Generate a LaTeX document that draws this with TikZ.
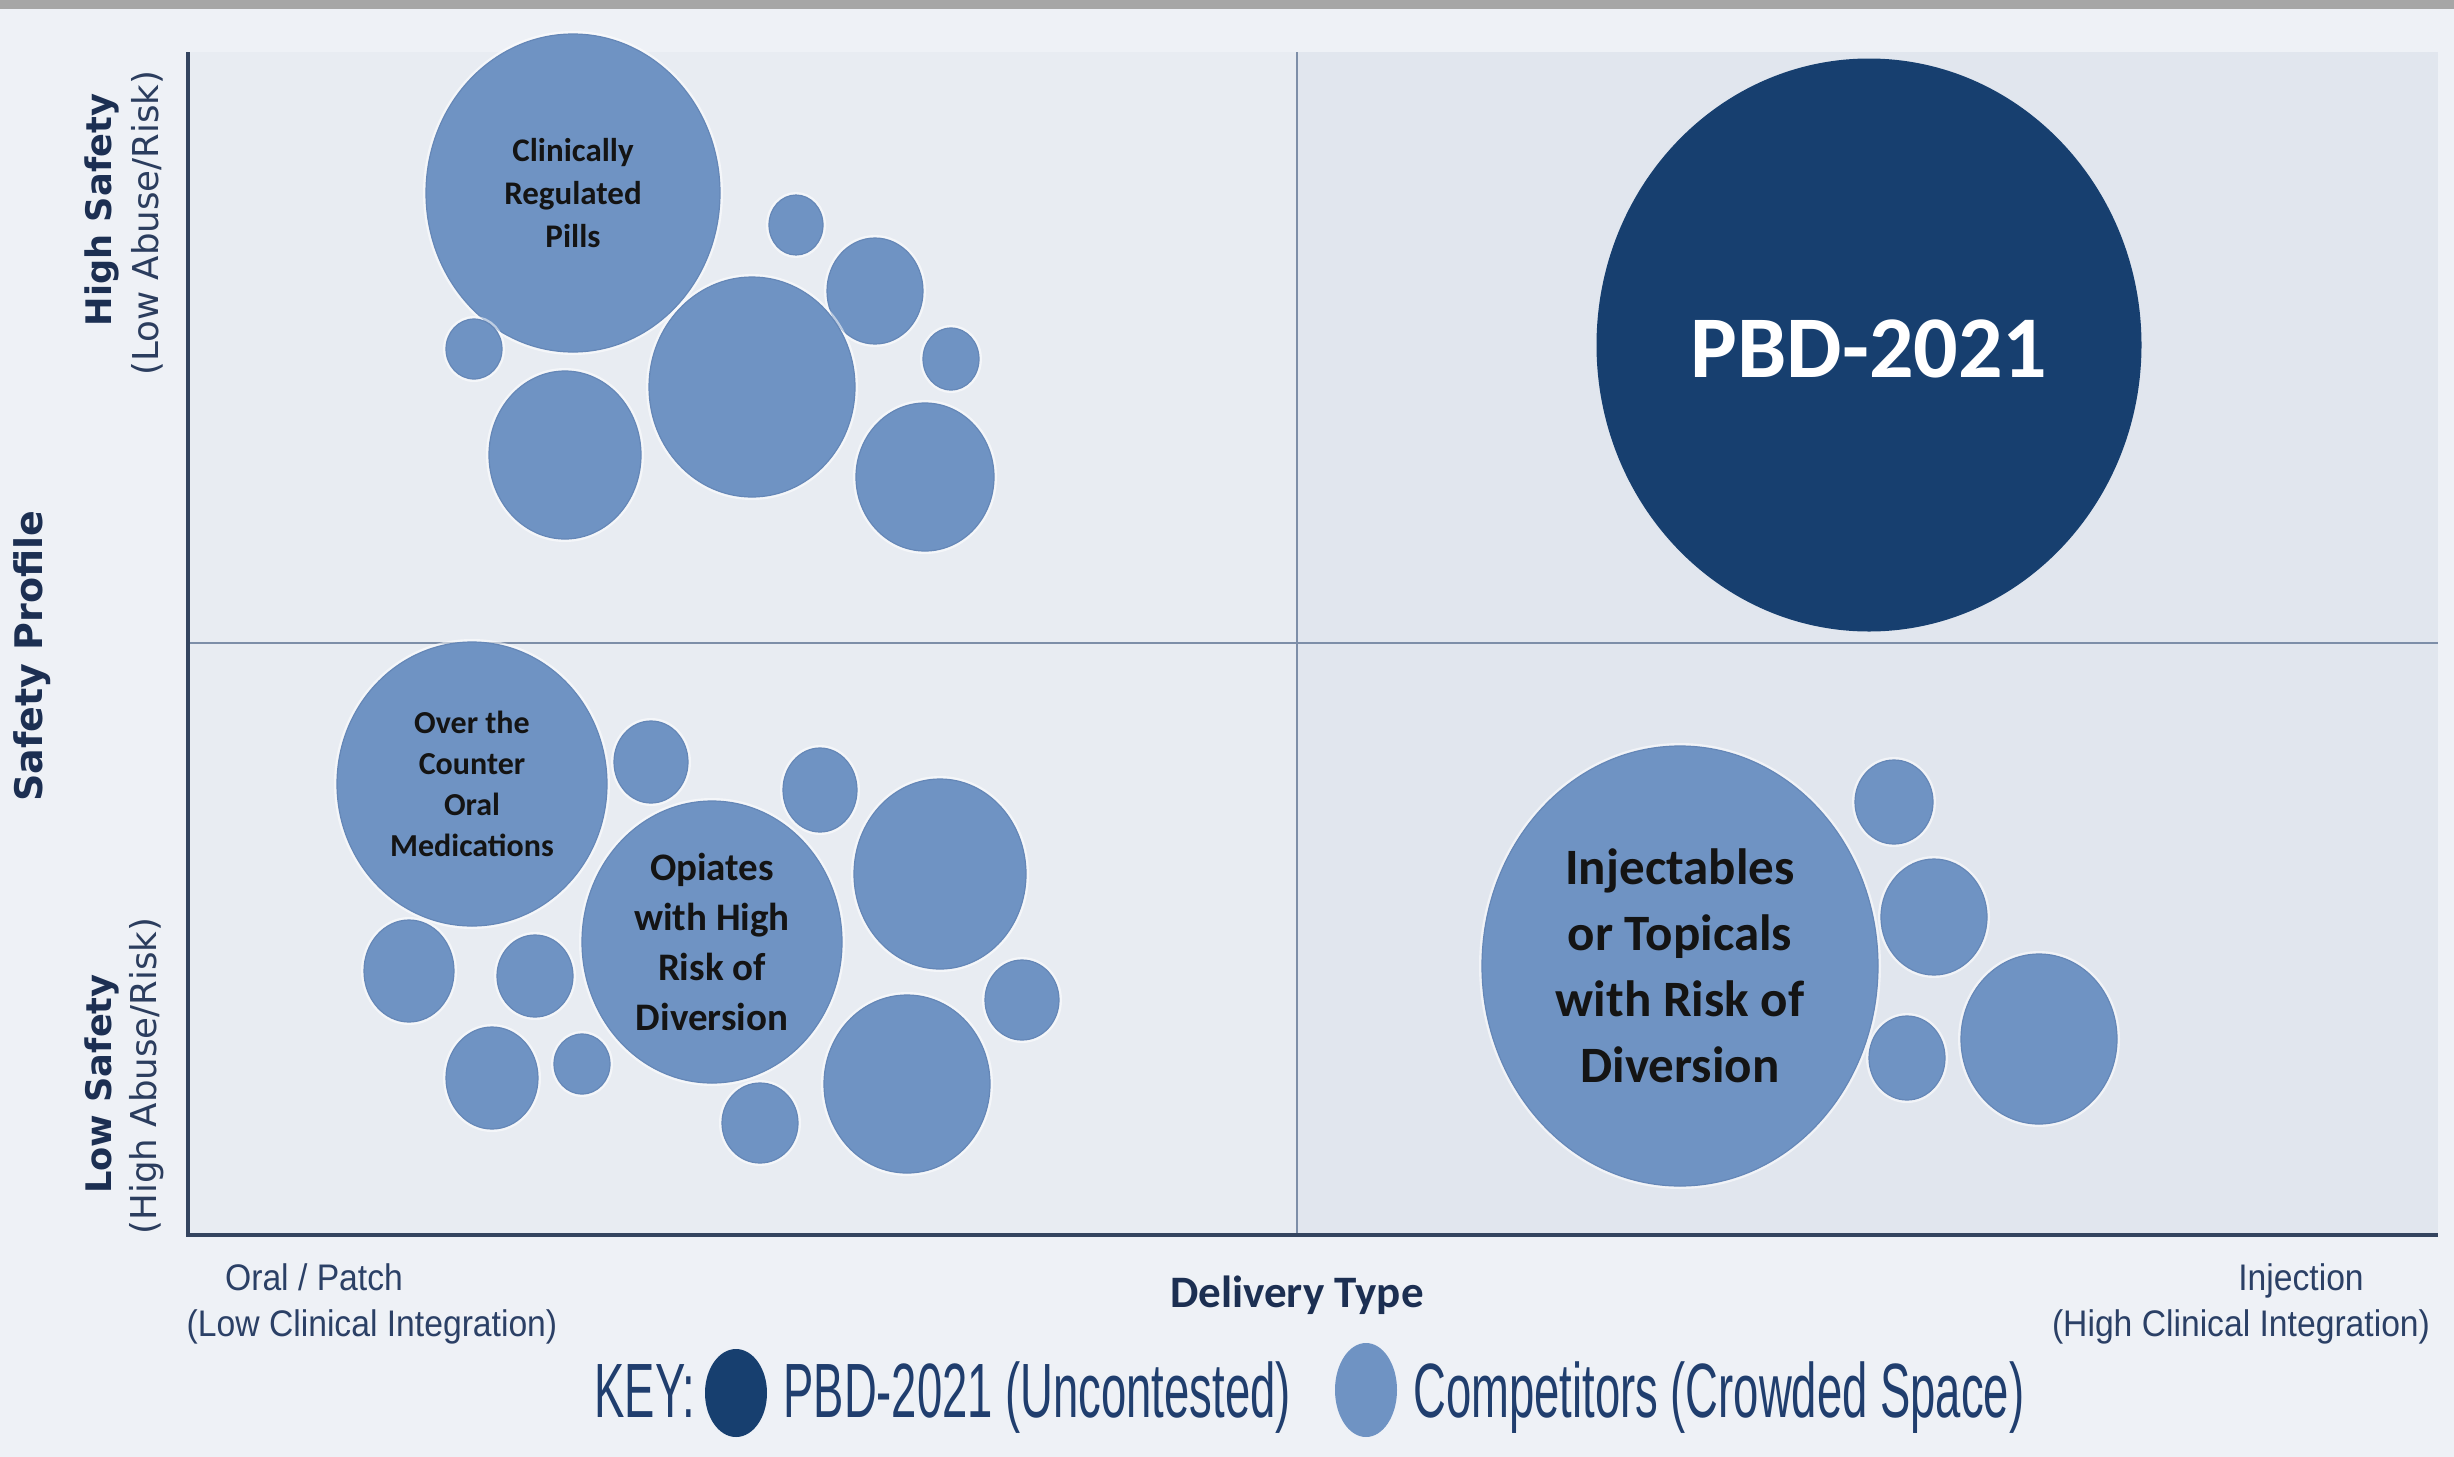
\documentclass[tikz,border=0pt]{standalone}
\usepackage{fontspec}
\setmainfont{Carlito}
\newfontfamily\axisfont{DejaVu Sans}
\newfontfamily\scalefont[FakeStretch=0.91]{Liberation Sans}
\newfontfamily\keyfont[FakeStretch=0.59]{Liberation Sans}
\usetikzlibrary{shapes.geometric}

\definecolor{pagebg}{HTML}{EEF1F6}
\definecolor{topbar}{HTML}{A6A6A6}
\definecolor{leftpanel}{HTML}{E8ECF2}
\definecolor{rightpanel}{HTML}{E1E6EE}
\definecolor{axisline}{HTML}{34445F}
\definecolor{gridline}{HTML}{7D8EA8}
\definecolor{comp}{HTML}{6F93C3}
\definecolor{compedge}{HTML}{6587B7}
\definecolor{pbd}{HTML}{173F6F}
\definecolor{axistext}{HTML}{1C2F52}
\definecolor{subtext}{HTML}{2B3D5E}
\definecolor{scaletext}{HTML}{2B4066}
\definecolor{keytext}{HTML}{203E6E}
\definecolor{bubtext}{HTML}{141414}

\newcommand{\fsz}[2]{\fontsize{#1}{#2}\selectfont}
% competitor bubble: name, centre x, centre y, x radius, y radius (all in px)
\newcommand{\bub}[5]{\node[bubble, minimum width=#4pt, minimum height=#5pt] (#1) at (#2,#3) {};}

\begin{document}
\begin{tikzpicture}[x=0.5pt, y=-0.5pt,
  bubble/.style={ellipse, inner sep=0pt, outer sep=0pt, fill=comp, draw=compedge, line width=0.6pt,
    preaction={draw=white, line width=3pt, draw opacity=0.55}},
  lead/.style={ellipse, inner sep=0pt, outer sep=0pt, fill=pbd},
  keydot/.style={ellipse, inner sep=0pt, outer sep=0pt},
  bubtxt/.style={align=center, text=bubtext, inner sep=0pt},
  axislbl/.style={font=\axisfont\bfseries\fsz{17.6pt}{20pt}, text=axistext, inner sep=0pt},
  sublbl/.style={font=\axisfont\fsz{17.8pt}{20pt}, text=subtext, inner sep=0pt},
  scalelbl/.style={font=\scalefont\fsz{18.5pt}{22pt}, text=scaletext, inner sep=0pt},
  keylbl/.style={font=\keyfont\fsz{38.5pt}{44pt}, text=keytext, inner sep=0pt},
  axis/.style={draw=axisline, line width=1.6pt},
  grid/.style={draw=gridline, line width=1.1pt}]

% canvas
\fill[pagebg] (0,0) rectangle (2454,1457);
\useasboundingbox (0,0) rectangle (2454,1457);
\fill[topbar] (0,0) rectangle (2454,9);

% quadrant panels
\coordinate (O) at (188,1235);
\coordinate (Ytop) at (188,52);
\coordinate (Xend) at (2438,1235);
\coordinate (Mtop) at (1297,52);
\coordinate (Mbot) at (1297,1235);
\coordinate (Mleft) at (188,643);
\coordinate (Mright) at (2438,643);
\fill[leftpanel] (Ytop) rectangle (Mbot);
\fill[rightpanel] (Mtop) rectangle (Xend);
\draw[grid] (Mtop) -- (Mbot);
\draw[grid] (Mleft) -- (Mright);
\draw[axis] (Ytop) -- (O) -- (Xend);

% upper left: clinically regulated pills
\bub{pills}{573}{193}{147}{159}
\bub{ulA}{796}{225}{27}{30}
\bub{ulB}{875}{291}{48}{53}
\bub{ulC}{474}{349}{28}{30}
\bub{ulD}{951}{359}{28}{31}
\bub{ulE}{752}{387}{103}{110}
\bub{ulF}{565}{455}{76}{84}
\bub{ulG}{925}{477}{69}{74}
\node[bubtxt, font=\bfseries\fsz{16.5pt}{21.5pt}] at (pills) {Clinically\\Regulated\\Pills};

% lower left: OTC and opiates
\bub{otc}{472}{784}{135}{142}
\bub{llA}{651}{762}{37}{41}
\bub{llB}{820}{790}{37}{42}
\bub{llC}{940}{874}{86}{95}
\bub{opi}{712}{942}{130}{141}
\bub{llD}{409}{971}{45}{51}
\bub{llE}{535}{976}{38}{41}
\bub{llF}{492}{1078}{46}{51}
\bub{llG}{582}{1064}{28}{30}
\bub{llH}{760}{1123}{38}{40}
\bub{llI}{907}{1084}{83}{89}
\bub{llJ}{1022}{1000}{37}{40}
\node[bubtxt, font=\bfseries\fsz{16pt}{20.5pt}] at (otc) {Over the\\Counter\\Oral\\Medications};
\node[bubtxt, font=\bfseries\fsz{19.5pt}{25pt}] at (opi) {Opiates\\with High\\Risk of\\Diversion};

% lower right: injectables / topicals
\bub{inj}{1680}{966}{198}{220}
\bub{lrA}{1894}{802}{39}{42}
\bub{lrB}{1934}{917}{53}{58}
\bub{lrC}{1907}{1058}{38}{42}
\bub{lrD}{2039}{1039}{78}{85}
\node[bubtxt, font=\bfseries\fsz{25.5pt}{33pt}] at (inj) {Injectables\\or Topicals\\with Risk of\\Diversion};

% upper right: PBD-2021
\node[lead, minimum width=272.5pt, minimum height=286.5pt] (pbd) at (1869,345) {};
\node[inner sep=0pt, text=white, font=\bfseries\fsz{44pt}{52pt}, yshift=-2pt] at (pbd) {PBD-2021};

% vertical axis labels
\node[axislbl, rotate=90] (hs) at (102,210) {High Safety};
\node[sublbl, rotate=90] (hsr) at (147,223) {(Low Abuse/Risk)};
\node[axislbl, rotate=90] (ls) at (102,1084) {Low Safety};
\node[sublbl, rotate=90] (lsr) at (147,1076) {(High Abuse/Risk)};
\node[axislbl, font=\axisfont\bfseries\fsz{19pt}{22pt}, rotate=90] (sp) at (32,656) {Safety Profile};

% horizontal axis labels
\node[scalelbl, anchor=base] (op) at (314,1290) {Oral / Patch};
\node[scalelbl, anchor=base] (opr) at (372,1336) {(Low Clinical Integration)};
\node[scalelbl, anchor=base] (ij) at (2301,1290) {Injection};
\node[scalelbl, anchor=base] (ijr) at (2241,1336) {(High Clinical Integration)};
\node[inner sep=0pt, font=\bfseries\fsz{22.5pt}{27pt}, text=axistext, anchor=base] (dt) at (1297,1307) {Delivery Type};

% key
\node[keylbl, anchor=base west] (keyword) at (594,1417) {KEY:};
\node[keydot, fill=pbd, minimum width=31pt, minimum height=44pt] (keylead) at (736,1393) {};
\node[keylbl, anchor=base west] (keyleadtxt) at (783,1417) {PBD-2021 (Uncontested)};
\node[keydot, fill=comp, minimum width=31pt, minimum height=47pt] (keycomp) at (1366,1390) {};
\node[keylbl, anchor=base west] (keycomptxt) at (1413,1417) {Competitors (Crowded Space)};
\end{tikzpicture}
\end{document}
